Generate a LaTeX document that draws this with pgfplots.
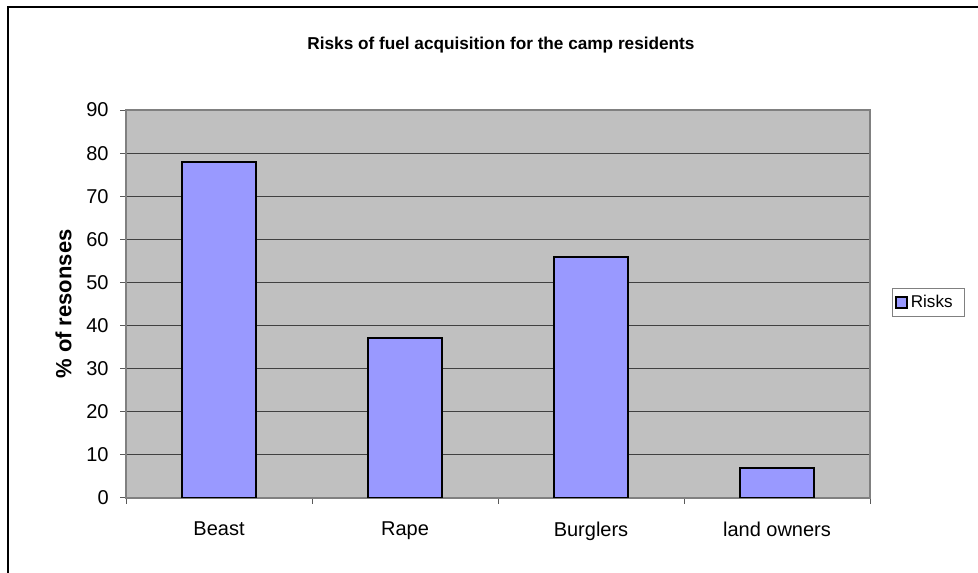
\documentclass[border=0pt]{standalone}
\usepackage{pgfplots}
\pgfplotsset{compat=1.18}
\usepackage{fontspec}
\setmainfont{Liberation Sans}
\definecolor{barfill}{HTML}{9999FF}
\definecolor{plotbg}{HTML}{C0C0C0}
\begin{document}
\begin{tikzpicture}[x=0.75pt,y=0.75pt]
\useasboundingbox (0,0) rectangle (978,573);
\draw[line width=1.5pt] (8,0) -- (8,566) -- (978,566);
\begin{axis}[
  at={(94.5pt,56.25pt)}, anchor=south west,
  scale only axis, width=558pt, height=291pt,
  xmin=-0.5, xmax=3.5, ymin=0, ymax=90,
  ytick={0,10,...,90},
  xtick={0,1,2,3},
  xticklabels={Beast,Rape,Burglers,land owners},
  minor xtick={-0.5,0.5,1.5,2.5,3.5},
  xtick pos=lower, ytick pos=left,
  tick align=outside,
  major tick length=4.5pt,
  minor tick length=4.5pt,
  major x tick style={draw=none},
  minor x tick style={draw=gray!70!black, line width=0.75pt},
  y tick style={draw=gray!70!black, line width=0.75pt},
  axis background/.style={fill=plotbg},
  axis line style={draw=gray, line width=1.1pt},
  ymajorgrids, grid style={draw=black!75, line width=0.75pt},
  /pgf/number format/assume math mode=true,
  ticklabel style={font=\fontsize{15}{18}\selectfont},
  yticklabel style={xshift=-5pt},
  xticklabel style={yshift=-10pt},
  ylabel={\% of resonses},
  ylabel style={font=\bfseries\fontsize{16.5}{19}\selectfont, at={(axis description cs:-0.084,0.5)}, anchor=center},
  title={Risks of fuel acquisition for the camp residents},
  title style={font=\bfseries\fontsize{12.9}{15}\selectfont, at={(axis description cs:0.504,1.147)}, anchor=center},
  legend style={at={(axis description cs:1.0296,0.504)}, anchor=west, draw=gray, line width=0.75pt,
    font=\fontsize{12.8}{15}\selectfont, inner xsep=2pt, inner ysep=3.2pt,
    legend cell align=left},
  legend image code/.code={\draw[#1, line width=1.5pt] (0.75pt,-4.1pt) rectangle (9pt,4.1pt);},
]
\addplot[ybar, bar width=0.4, fill=barfill, draw=black, line width=1.5pt] coordinates {(0,78) (1,37) (2,56) (3,7)};
\addlegendentry{\makebox[36pt][l]{Risks}}
\end{axis}
\end{tikzpicture}
\end{document}
